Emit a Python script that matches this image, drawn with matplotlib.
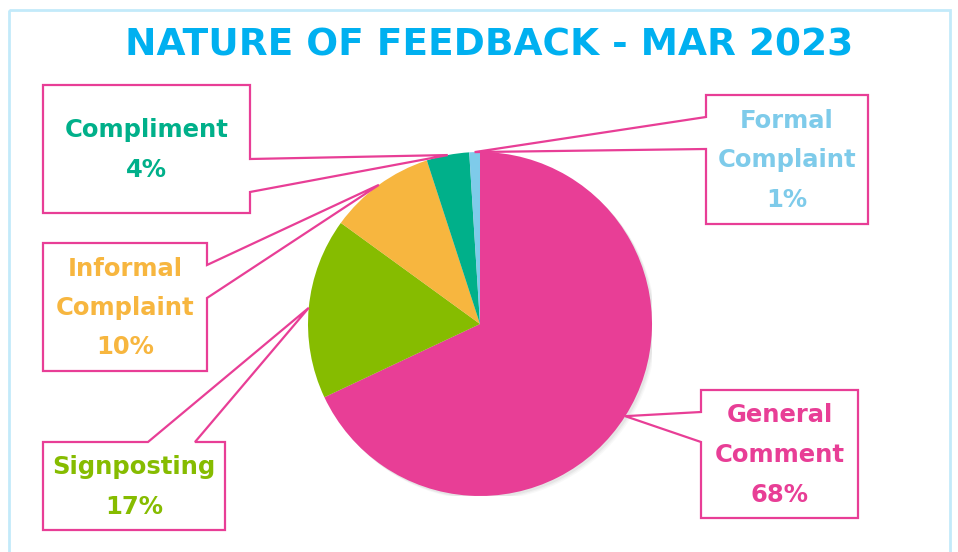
import numpy as np
import matplotlib.pyplot as plt
from matplotlib.patches import Polygon, Circle, Rectangle

categories = ['General\nComment', 'Signposting', 'Informal\nComplaint', 'Compliment', 'Formal\nComplaint']
values = [68, 17, 10, 4, 1]
colors = ['#E83E96', '#86BC00', '#F7B63F', '#00B08A', '#7ECBEA']
title = 'NATURE OF FEEDBACK - MAR 2023'

pink = '#E83E96'
W, H = 958, 552
fig = plt.figure(figsize=(W / 100, H / 100), dpi=100)

# overlay in pixel coords (y down)
ov = fig.add_axes([0, 0, 1, 1])
ov.set_xlim(0, W)
ov.set_ylim(H, 0)
ov.axis('off')
ov.set_zorder(2)
ov.patch.set_alpha(0)

# pie axes: centre (480, 324), radius 172 px
cx, cy, r = 480, 324, 172
ax = fig.add_axes([(cx - r) / W, (H - cy - r) / H, 2 * r / W, 2 * r / H])
for k, a in enumerate([0.10, 0.07, 0.05]):
    ax.add_patch(Circle((0.012 + 0.006 * k, -0.012 - 0.006 * k), 1.0, color='#888888', alpha=a, lw=0))
wedges, _ = ax.pie(values, colors=colors, startangle=90, counterclock=False,
                   wedgeprops=dict(linewidth=0))
ax.set_xlim(-1, 1)
ax.set_ylim(-1, 1)
ax.set_aspect('equal')

# frame and title
ov.add_patch(Rectangle((9, 10), 941, 560, fill=False, ec='#C3EAFA', lw=2))
ov.text(489, 46, title, ha='center', va='center', fontsize=27, fontweight='bold', color='#00B0F0')

# callout boxes: (x0, y0, x1, y1), side of pointer, notch (a, b)
boxes = {
    'General\nComment': ((701, 390, 858, 518), 'left', (412, 442)),
    'Signposting': ((43, 442, 225, 530), 'top', (148, 195)),
    'Informal\nComplaint': ((43, 243, 207, 371), 'right', (265, 298)),
    'Compliment': ((43, 85, 250, 213), 'right', (159, 192)),
    'Formal\nComplaint': ((706, 95, 868, 224), 'left', (117, 149)),
}


def to_px(x, y):
    d = ax.transData.transform((x, y))
    return ov.transData.inverted().transform(d)


fig.canvas.draw()
for w, cat, val, col in zip(wedges, categories, values, colors):
    mid = np.deg2rad((w.theta1 + w.theta2) / 2)
    tx, ty = to_px(np.cos(mid), np.sin(mid))
    (x0, y0, x1, y1), side, (a, b) = boxes[cat]
    if side == 'right':
        pts = [(x0, y0), (x1, y0), (x1, a), (tx, ty), (x1, b), (x1, y1), (x0, y1)]
    elif side == 'left':
        pts = [(x0, y0), (x1, y0), (x1, y1), (x0, y1), (x0, b), (tx, ty), (x0, a)]
    else:
        pts = [(x0, y0), (a, y0), (tx, ty), (b, y0), (x1, y0), (x1, y1), (x0, y1)]
    ov.add_patch(Polygon(pts, closed=True, fc='white', ec=pink, lw=1.6, zorder=3))
    lines = cat.split('\n') + ['%d%%' % val]
    n = len(lines)
    xc = (x0 + x1) / 2
    ym = (y0 + y1) / 2
    for i, t in enumerate(lines):
        ov.text(xc, ym + (i - (n - 1) / 2) * 39.5 + 1, t, ha='center', va='center',
                fontsize=17.5, fontweight='bold', color=col, zorder=4)

fig.savefig('out.png', dpi=100)
